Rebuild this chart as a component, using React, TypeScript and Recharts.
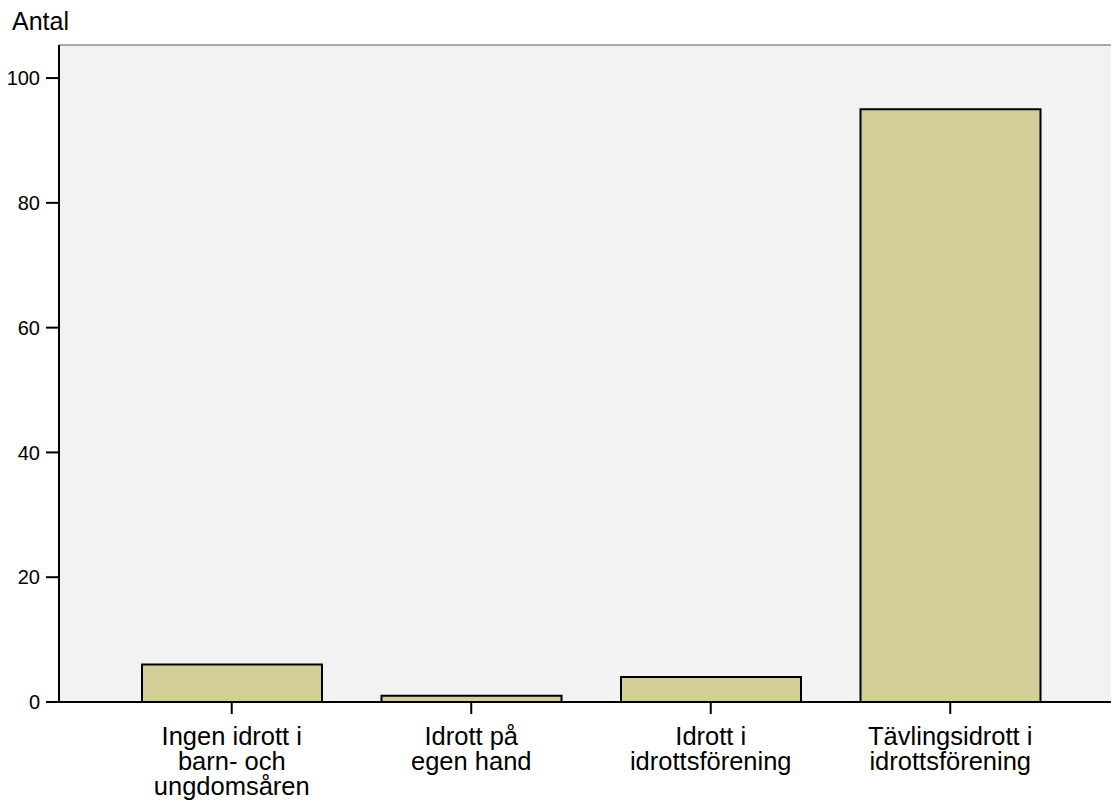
import React from "react";
import {
  BarChart,
  Bar,
  XAxis,
  YAxis,
  CartesianGrid,
  ReferenceLine,
} from "recharts";

const categories = [
  "Ingen idrott i\nbarn- och\nungdomsåren",
  "Idrott på\negen hand",
  "Idrott i\nidrottsförening",
  "Tävlingsidrott i\nidrottsförening",
];
const counts = [6, 1, 4, 95];
const yTicks = [0, 20, 40, 60, 80, 100];

const data = categories.map((name, i) => ({ name, antal: counts[i] }));

const FONT = "'Liberation Sans', Arial, Helvetica, sans-serif";

// multi-line category labels, tightly packed like the original
function CategoryTick(props: any) {
  const { x, y, payload } = props;
  const lines = String(payload.value).split("\n");
  return (
    <text x={x} y={y} textAnchor="middle" fontSize={25.5} fontFamily={FONT} fill="#000">
      {lines.map((line, i) => (
        <tspan key={i} x={x} dy={i === 0 ? 31 : 25}>
          {line}
        </tspan>
      ))}
    </text>
  );
}

export default function App() {
  return (
    <div style={{ width: 1111, height: 793, fontFamily: FONT }}>
      <BarChart
        width={1111}
        height={793}
        data={data}
        margin={{ top: 37, right: 0, left: 0, bottom: 0 }}
        barSize={180}
      >
        <CartesianGrid fill="#f2f2f2" stroke="none" horizontal={false} vertical={false} />
        <ReferenceLine y={105.3} stroke="#8c8c8c" strokeWidth={1.5} />
        <XAxis
          dataKey="name"
          height={99}
          padding={{ left: 53, right: 49 }}
          axisLine={{ stroke: "#000", strokeWidth: 2 }}
          tickLine={{ stroke: "#000", strokeWidth: 2 }}
          tickSize={12}
          tickMargin={0}
          interval={0}
          tick={<CategoryTick />}
        />
        <YAxis
          width={51}
          domain={[0, 105.3]}
          ticks={yTicks}
          allowDataOverflow
          axisLine={{ stroke: "#000", strokeWidth: 2 }}
          tickLine={{ stroke: "#000", strokeWidth: 2 }}
          tickSize={13}
          tickMargin={6}
          tick={{ fill: "#000", fontSize: 20, fontFamily: FONT }}
          label={{
            content: () => (
              <text x={4} y={22} fontSize={25} fontFamily={FONT} fill="#000">
                Antal
              </text>
            ),
          }}
        />
        <Bar
          dataKey="antal"
          fill="#d3ce98"
          stroke="#000"
          strokeWidth={2}
          isAnimationActive={false}
        />
      </BarChart>
    </div>
  );
}
